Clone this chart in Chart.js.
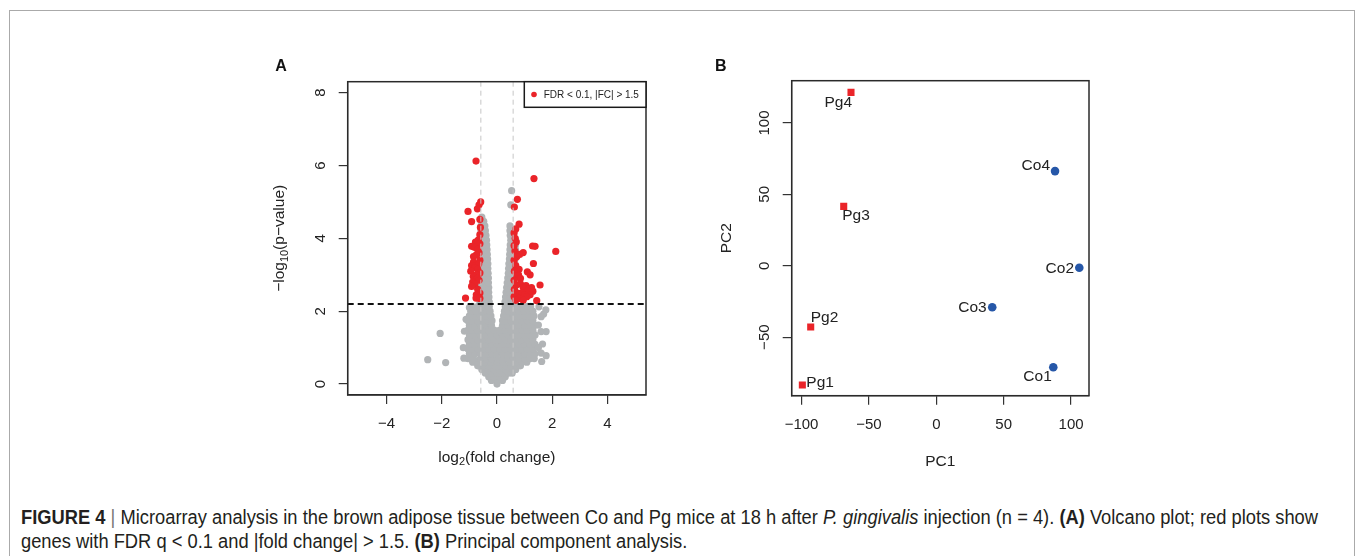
<!DOCTYPE html>
<html><head><meta charset="utf-8">
<script src="https://cdn.jsdelivr.net/npm/chart.js@4.4.1/dist/chart.umd.min.js"></script>
<style>
html,body{margin:0;padding:0;background:#fff;width:1355px;height:556px;overflow:hidden;}
#frame{position:absolute;left:9px;top:10px;width:1346px;height:620px;border:1px solid #aaa;box-sizing:border-box;}
#cA{position:absolute;left:260px;top:40px;}
#cB{position:absolute;left:700px;top:40px;}
.cap{position:absolute;left:21px;white-space:nowrap;font-family:"Liberation Sans Narrow","Liberation Sans",Arial,sans-serif;font-size:20px;line-height:24px;color:#231f20;transform-origin:0 0;}
.cap b{font-weight:bold;}
.sep{color:#777;}
</style></head>
<body>
<div id="frame"></div>
<canvas id="cA" width="400" height="440"></canvas>
<canvas id="cB" width="420" height="440"></canvas>
<div class="cap" id="cap1" style="top:505px"></div>
<div class="cap" id="cap2" style="top:529px"></div>
<script>
// ---------------- DATA ----------------
// Panel A: volcano plot
const volcanoXTicks = [-4, -2, 0, 2, 4];
const volcanoYTicks = [0, 2, 4, 6, 8];
const foldCutoffs = [-0.585, 0.585];     // log2(1.5)
const pValueCutoff = 2.2;                 // -log10(p) threshold
const sigLabel = 'FDR < 0.1, |FC| > 1.5';
// significant genes (red): [log2FC, -log10 p]
const sigGenes = [
 [-0.76,6.12],[-0.59,5.00],[-0.65,4.92],[-0.71,4.81],[-1.05,4.74],[-0.92,4.46],[-0.62,4.52],[-0.60,4.30],
 [-0.62,4.10],[-0.68,3.95],[-0.78,3.90],[-0.62,3.85],[-0.92,3.78],[-0.80,3.75],[-0.70,3.70],[-0.65,3.60],
 [-0.75,3.55],[-0.85,3.50],[-0.62,3.40],[-0.85,3.35],[-0.66,3.30],[-0.92,3.25],[-0.80,3.20],[-0.70,3.15],
 [-0.95,3.10],[-0.62,3.05],[-0.75,3.00],[-0.86,2.95],[-0.72,2.90],[-0.65,2.85],[-0.88,2.80],[-0.80,2.75],
 [-0.92,2.68],[-0.70,2.60],[-0.62,2.50],[-0.75,2.45],[-1.14,2.36],[-0.76,2.36],[-0.62,2.35],
 [1.34,5.64],[0.74,5.07],[0.63,4.86],[0.80,4.39],[0.68,4.26],[0.62,4.15],[0.66,4.00],[0.70,3.90],
 [0.62,3.80],[1.29,3.79],[1.38,3.78],[2.13,3.64],[0.65,3.65],[0.95,3.61],[0.82,3.56],[0.72,3.50],
 [0.62,3.40],[1.32,3.31],[0.68,3.25],[0.80,3.15],[0.63,3.10],[1.10,3.08],[0.78,3.00],[1.20,3.00],
 [0.72,2.98],[0.85,2.90],[0.62,2.85],[0.85,2.75],[0.70,2.72],[1.56,2.72],[1.05,2.70],[0.95,2.65],
 [1.25,2.65],[0.63,2.60],[1.15,2.60],[1.30,2.55],[1.10,2.55],[0.75,2.50],[0.90,2.50],[1.00,2.45],
 [1.20,2.45],[0.62,2.40],[1.08,2.40],[0.80,2.35],[0.95,2.30],[0.68,2.30],[1.44,2.29]
];
// non-significant genes (grey), read row by row: [-log10 p, [log2FC ...]]
const greyRows = [
 [0.00,[0.0]],
 [0.10,[-0.2,0.0,0.2]],
 [0.20,[-0.3,-0.1,0.1,0.3]],
 [0.30,[-0.42,-0.2,0.0,0.2,0.42,0.55]],
 [0.40,[-0.55,-0.32,-0.1,0.1,0.32,0.55,0.68]],
 [0.50,[-0.7,-0.5,-0.3,-0.1,0.1,0.3,0.5,0.7,0.85]],
 [0.60,[-0.88,-0.68,-0.46,-0.22,0.0,0.22,0.46,0.68,0.9,1.08]],
 [0.70,[-1.05,-0.85,-0.6,-0.4,-0.2,0.0,0.2,0.4,0.6,0.8,1.0,1.2,1.35]],
 [0.83,[-1.0,-0.8,-0.6,-0.4,-0.2,0.0,0.2,0.4,0.6,0.8,1.0,1.2,1.38]],
 [0.96,[-1.05,-0.9,-0.7,-0.5,-0.3,-0.1,0.1,0.3,0.5,0.7,0.9,1.1,1.3]],
 [1.09,[-1.0,-0.8,-0.6,-0.4,-0.2,0.0,0.2,0.4,0.6,0.8,1.0,1.2,1.38]],
 [1.22,[-1.05,-0.9,-0.7,-0.5,-0.3,-0.1,0.1,0.3,0.5,0.7,0.9,1.1,1.3]],
 [1.35,[-1.0,-0.8,-0.6,-0.4,-0.2,0.0,0.2,0.4,0.6,0.8,1.0,1.2,1.38]],
 [1.48,[-1.05,-0.9,-0.7,-0.5,-0.3,-0.1,0.1,0.3,0.5,0.7,0.9,1.1,1.3]],
 [1.61,[-1.0,-0.8,-0.6,-0.4,-0.2,0.2,0.4,0.6,0.8,1.0,1.2,1.36]],
 [1.74,[-1.05,-0.9,-0.7,-0.5,-0.32,-0.18,0.2,0.32,0.5,0.7,0.9,1.1,1.3]],
 [1.87,[-1.0,-0.8,-0.6,-0.4,-0.22,0.24,0.4,0.6,0.8,1.0,1.2,1.34]],
 [2.00,[-0.95,-0.75,-0.55,-0.38,-0.25,0.27,0.42,0.6,0.8,1.0,1.18,1.3]],
 [2.13,[-0.9,-0.7,-0.5,-0.28,0.3,0.5,0.7,0.9,1.1,1.22]],
 [2.26,[-0.62,-0.45,-0.28,0.29,0.45,0.62]],
 [2.39,[-0.6,-0.44,-0.29,0.31,0.47,0.63]],
 [2.52,[-0.62,-0.46,-0.3,0.33,0.48,0.62]],
 [2.65,[-0.6,-0.45,-0.3,0.35,0.5,0.64]],
 [2.78,[-0.62,-0.46,-0.31,0.37,0.5,0.62]],
 [2.91,[-0.6,-0.45,-0.31,0.39,0.52,0.64]],
 [3.04,[-0.62,-0.46,-0.32,0.41,0.54,0.65]],
 [3.17,[-0.6,-0.46,-0.33,0.42,0.55,0.64]],
 [3.30,[-0.61,-0.47,-0.33,0.43,0.56,0.65]],
 [3.43,[-0.6,-0.47,-0.34,0.45,0.57,0.66]],
 [3.56,[-0.61,-0.48,-0.35,0.46,0.58,0.66]],
 [3.69,[-0.6,-0.48,-0.36,0.47,0.59,0.67]],
 [3.82,[-0.61,-0.49,-0.37,0.48,0.6,0.67]],
 [3.95,[-0.6,-0.49,-0.38,0.5,0.61,0.68]],
 [4.08,[-0.6,-0.5,-0.4,0.48,0.6]],
 [4.21,[-0.58,-0.5,-0.42,0.47,0.58]],
 [4.34,[-0.58,-0.5,-0.44,0.47]],
 [4.47,[-0.56,-0.48]],
 [4.58,[-0.55]]
];
const greyOutliers = [
 [-2.51,0.67],[-1.86,0.59],[-2.06,1.39],[-1.2,0.71],[-1.22,1.0],[-1.18,1.45],[-1.12,1.78],[-1.0,2.1],
 [1.62,0.62],[1.78,0.78],[1.6,0.85],[1.65,1.1],[1.5,1.0],[1.6,1.44],[1.78,1.44],[1.5,1.62],
 [1.6,1.85],[1.69,1.92],[1.77,2.04],[1.52,2.12],[0.53,5.31],[0.5,4.92]
];
// Panel B: PCA
const pgNames = ['Pg1','Pg2','Pg3','Pg4'];
const pgPC1 = [-99.4, -93.2, -68.7, -63.3];
const pgPC2 = [-83.5, -42.9, 41.6, 121.4];
const coNames = ['Co1','Co2','Co3','Co4'];
const coPC1 = [86.8, 106.1, 41.5, 88.1];
const coPC2 = [-71.1, -1.4, -29.1, 66.3];
const pcaXTicks = [-100, -50, 0, 50, 100];
const pcaYTicks = [-50, 0, 50, 100];

// ---------------- STYLE ----------------
const FONT = '"Liberation Sans", Arial, Helvetica, sans-serif';
const RED = '#ea2429', GREY = '#b1b4b6', BLUE = '#2657a8', INK = '#222';
// label placement (pixel offsets from point, text alignment)
const pgLabelPos = [[4,-2,'left'],[0,-9.5,'left'],[-1.5,9.5,'left'],[1,10.5,'right']];
const coLabelPos = [[-1.5,9.5,'right'],[-5.3,0.6,'right'],[-5.6,0,'right'],[-5,-5.3,'right']];

function fmt(v){ return v < 0 ? '\u2212' + Math.abs(v) : String(v); }

function drawRich(ctx, parts, cx, cy, size, rot){
  ctx.save(); ctx.translate(cx, cy); if (rot) ctx.rotate(rot);
  ctx.fillStyle = INK; ctx.textBaseline = 'middle'; ctx.textAlign = 'left';
  const big = size + 'px ' + FONT, small = Math.round(size * 0.72) + 'px ' + FONT;
  let w = 0;
  parts.forEach(p => { ctx.font = p.sub ? small : big; p.w = ctx.measureText(p.t).width; w += p.w; });
  let xx = -w / 2;
  parts.forEach(p => { ctx.font = p.sub ? small : big; ctx.fillText(p.t, xx, p.sub ? size * 0.3 : 0); xx += p.w; });
  ctx.restore();
}
function drawBox(ctx, a){
  ctx.save(); ctx.strokeStyle = '#2a2a2a'; ctx.lineWidth = 1.5; ctx.setLineDash([]);
  ctx.strokeRect(a.left, a.top, a.right - a.left, a.bottom - a.top); ctx.restore();
}
function drawYTickLabels(ctx, a, yScale, ticks){
  ctx.save(); ctx.fillStyle = INK; ctx.font = '15px ' + FONT; ctx.textAlign = 'center'; ctx.textBaseline = 'middle';
  ticks.forEach(v => {
    const py = yScale.getPixelForValue(v);
    ctx.save(); ctx.translate(a.left - 26.7, py); ctx.rotate(-Math.PI / 2); ctx.fillText(fmt(v), 0, 0); ctx.restore();
  });
  ctx.restore();
}
function axisOpts(min, max, tickVals, fitProp, fitVal, showLabels){
  return {
    type: 'linear', min: min, max: max,
    afterBuildTicks(s){ s.ticks = tickVals.map(v => ({ value: v })); },
    afterFit(s){ s[fitProp] = fitVal; },
    grid: { drawOnChartArea: false, drawTicks: true, tickLength: 9, color: '#333', lineWidth: 1.2 },
    border: { display: true, color: '#333', width: 1.2 },
    ticks: { display: showLabels, font: { family: FONT, size: 15 }, color: INK, padding: 11,
             callback: fmt, maxRotation: 0, minRotation: 0, autoSkip: false }
  };
}

// ---------------- PANEL A ----------------
const greyPts = [];
greyRows.forEach(([y, xs]) => xs.forEach(x => greyPts.push({ x: x, y: y })));
greyOutliers.forEach(([x, y]) => greyPts.push({ x: x, y: y }));

const volcanoDecor = {
  id: 'volcanoDecor',
  afterDatasetsDraw(chart){
    const { ctx, chartArea: a, scales: { x, y } } = chart;
    ctx.save();
    ctx.beginPath(); ctx.rect(a.left, a.top, a.right - a.left, a.bottom - a.top); ctx.clip();
    ctx.setLineDash([5, 4]); ctx.strokeStyle = '#c6c6c6'; ctx.lineWidth = 1;
    foldCutoffs.forEach(v => { const px = x.getPixelForValue(v); ctx.beginPath(); ctx.moveTo(px, a.top); ctx.lineTo(px, a.bottom); ctx.stroke(); });
    ctx.setLineDash([6, 4]); ctx.strokeStyle = '#111'; ctx.lineWidth = 2;
    const py = y.getPixelForValue(pValueCutoff);
    ctx.beginPath(); ctx.moveTo(a.left, py); ctx.lineTo(a.right, py); ctx.stroke();
    ctx.restore();
  },
  afterDraw(chart){
    const { ctx, chartArea: a, scales: { y } } = chart;
    drawBox(ctx, a);
    // legend
    const lw = 121.7, lh = 25.6, lx = a.right - lw, ly = a.top;
    ctx.save();
    ctx.fillStyle = '#fff'; ctx.fillRect(lx, ly, lw, lh);
    ctx.strokeStyle = '#1a1a1a'; ctx.lineWidth = 1.5; ctx.strokeRect(lx, ly, lw, lh);
    ctx.fillStyle = RED; ctx.beginPath(); ctx.arc(lx + 9.7, ly + lh / 2, 2.8, 0, Math.PI * 2); ctx.fill();
    ctx.fillStyle = INK; ctx.font = '10px ' + FONT; ctx.textBaseline = 'middle'; ctx.textAlign = 'left';
    ctx.fillText(chart.data.datasets[0].label, lx + 19.4, ly + lh / 2 + 0.5);
    ctx.restore();
    drawYTickLabels(ctx, a, y, volcanoYTicks);
    drawRich(ctx, [{ t: 'log' }, { t: '2', sub: true }, { t: '(fold change)' }], (a.left + a.right) / 2, 417.3, 15.5, 0);
    drawRich(ctx, [{ t: '\u2212log' }, { t: '10', sub: true }, { t: '(p\u2212value)' }], 20, (a.top + a.bottom) / 2, 15.5, -Math.PI / 2);
    ctx.save(); ctx.fillStyle = '#111'; ctx.font = 'bold 16px ' + FONT; ctx.textAlign = 'center'; ctx.textBaseline = 'middle';
    ctx.fillText('A', 21, 27); ctx.restore();
  }
};

new Chart(document.getElementById('cA'), {
  type: 'scatter',
  data: { datasets: [
    { label: sigLabel, data: sigGenes.map(([x, y]) => ({ x: x, y: y })), pointBackgroundColor: RED, backgroundColor: RED,
      pointBorderWidth: 0, pointRadius: 3.6, pointHoverRadius: 3.6, order: 0 },
    { label: 'Not significant', data: greyPts, pointBackgroundColor: GREY, backgroundColor: GREY,
      pointBorderWidth: 0, pointRadius: 3.6, pointHoverRadius: 3.6, order: 1 }
  ] },
  options: {
    responsive: false, animation: false, events: [],
    layout: { padding: { left: 0, top: 41.7, right: 14, bottom: 0 } },
    plugins: { legend: { display: false }, tooltip: { enabled: false } },
    scales: {
      x: Object.assign(axisOpts(-5.41, 5.40, volcanoXTicks, 'height', 85, true), { position: 'bottom' }),
      y: Object.assign(axisOpts(-0.30, 8.30, volcanoYTicks, 'width', 87.7, false), { position: 'left' })
    }
  },
  plugins: [volcanoDecor]
});

// ---------------- PANEL B ----------------
const pcaDecor = {
  id: 'pcaDecor',
  afterDraw(chart){
    const { ctx, chartArea: a, scales: { y } } = chart;
    drawBox(ctx, a);
    drawYTickLabels(ctx, a, y, pcaYTicks);
    ctx.save(); ctx.fillStyle = INK; ctx.font = '15.5px ' + FONT; ctx.textBaseline = 'middle';
    const groups = [[0, pgNames, pgLabelPos], [1, coNames, coLabelPos]];
    groups.forEach(([di, names, pos]) => {
      const meta = chart.getDatasetMeta(di);
      meta.data.forEach((el, i) => {
        const [dx, dy, al] = pos[i];
        ctx.textAlign = al; ctx.fillText(names[i], el.x + dx, el.y + dy);
      });
    });
    ctx.restore();
    drawRich(ctx, [{ t: 'PC1' }], (a.left + a.right) / 2, 421.7, 15.5, 0);
    drawRich(ctx, [{ t: 'PC2' }], 26.7, (a.top + a.bottom) / 2, 15.5, -Math.PI / 2);
    ctx.save(); ctx.fillStyle = '#111'; ctx.font = 'bold 16px ' + FONT; ctx.textAlign = 'center'; ctx.textBaseline = 'middle';
    ctx.fillText('B', 20.7, 26.5); ctx.restore();
  }
};

new Chart(document.getElementById('cB'), {
  type: 'scatter',
  data: { datasets: [
    { label: 'Pg', data: pgPC1.map((v, i) => ({ x: v, y: pgPC2[i] })), pointStyle: 'rect', pointRadius: 5, pointHoverRadius: 5,
      pointBackgroundColor: RED, backgroundColor: RED, pointBorderWidth: 0 },
    { label: 'Co', data: coPC1.map((v, i) => ({ x: v, y: coPC2[i] })), pointStyle: 'circle', pointRadius: 4.3, pointHoverRadius: 4.3,
      pointBackgroundColor: BLUE, backgroundColor: BLUE, pointBorderWidth: 0 }
  ] },
  options: {
    responsive: false, animation: false, events: [],
    layout: { padding: { left: 0, top: 40.7, right: 31, bottom: 0 } },
    plugins: { legend: { display: false }, tooltip: { enabled: false } },
    scales: {
      x: Object.assign(axisOpts(-107.3, 113.3, pcaXTicks, 'height', 84.3, true), { position: 'bottom' }),
      y: Object.assign(axisOpts(-91.0, 129.6, pcaYTicks, 'width', 91.7, false), { position: 'left' })
    }
  },
  plugins: [pcaDecor]
});

// ---------------- CAPTION ----------------
const captionLine1 = '<b>FIGURE 4</b> <span class="sep">|</span> Microarray analysis in the brown adipose tissue between Co and Pg mice at 18 h after <i>P. gingivalis</i> injection (n = 4). <b>(A)</b> Volcano plot; red plots show';
const captionLine2 = 'genes with FDR q &lt; 0.1 and |fold change| &gt; 1.5. <b>(B)</b> Principal component analysis.';
const c1 = document.getElementById('cap1'), c2 = document.getElementById('cap2');
c1.innerHTML = captionLine1; c2.innerHTML = captionLine2;
const sc = 1297 / c1.getBoundingClientRect().width;
c1.style.transform = 'scaleX(' + sc + ')'; c2.style.transform = 'scaleX(' + sc + ')';
</script>
</body></html>
